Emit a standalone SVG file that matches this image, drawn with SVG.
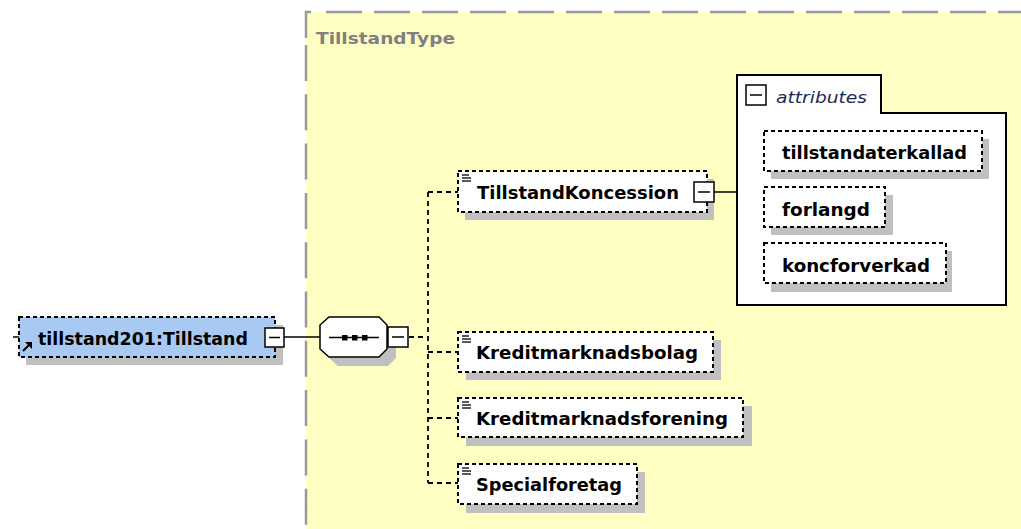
<svg xmlns="http://www.w3.org/2000/svg" width="1021" height="529" viewBox="0 0 1021 529">
<style>
.lbl{font-family:"DejaVu Sans","Verdana",sans-serif;font-weight:bold;font-size:17px;fill:#000}
.node{fill:#fff;stroke:#000;stroke-width:2;stroke-dasharray:4 3}
.shadow{fill:#c0c0c0}
.cbox{fill:#fff;stroke:#000;stroke-width:1.5}
.minus{stroke:#000;stroke-width:1.5}
.solid{stroke:#000;stroke-width:1.5;fill:none}
.dash{stroke:#000;stroke-width:1.8;fill:none;stroke-dasharray:5 4}
.border{stroke:#999;stroke-width:2.5;fill:none}
.icon{stroke:#000;stroke-width:1.3}
</style>
<rect x="0" y="0" width="1021" height="529" fill="#fff"/>
<g id="TillstandType">
<rect x="306" y="12" width="715" height="517" fill="#ffffc3"/>
<path class="border" d="M306,38 V12 H311"/>
<path class="border" d="M326,12 H1021" stroke-dasharray="36 12"/>
<path class="border" d="M306,45 V529" stroke-dasharray="36 13.3"/>
<text x="316" y="44" font-family="DejaVu Sans, sans-serif" font-weight="bold" font-size="16.5" fill="#808080" textLength="139" lengthAdjust="spacingAndGlyphs">TillstandType</text>
</g>
<g id="connectors">
<line class="solid" x1="284" y1="337" x2="320" y2="337"/>
<line class="dash" x1="409" y1="337" x2="428" y2="337"/>
<line class="dash" x1="428" y1="192" x2="428" y2="483"/>
<line class="dash" x1="428" y1="192" x2="458" y2="192"/>
<line class="dash" x1="428" y1="352" x2="458" y2="352"/>
<line class="dash" x1="428" y1="418" x2="458" y2="418"/>
<line class="dash" x1="428" y1="483" x2="458" y2="483"/>
<line class="solid" x1="714" y1="192" x2="737" y2="192"/>
</g>
<g id="root">
<line class="solid" x1="13" y1="337" x2="19" y2="337"/>
<rect class="shadow" x="26" y="325" width="257" height="40"/>
<rect class="node" x="19" y="317" width="256" height="40" style="fill:#a8caf2"/>
<line x1="23" y1="351" x2="29" y2="345" stroke="#000" stroke-width="2"/>
<polygon points="32,342 32,349 25,342" fill="#000"/>
<text class="lbl" x="38" y="345" textLength="210" lengthAdjust="spacingAndGlyphs">tillstand201:Tillstand</text>
<rect class="cbox" x="265" y="328" width="19" height="19"/>
<line class="minus" x1="269" y1="337.5" x2="280" y2="337.5"/>
</g>
<g id="sequence">
<path class="shadow" d="M338,326 H388 L396,334 V358 L388,366 H338 L329,358 V334 Z"/>
<path d="M329,317 H379 L387,325 V349 L379,357 H329 L320,349 V325 Z" fill="#fff" stroke="#000" stroke-width="1.5"/>
<line x1="329" y1="337.5" x2="379" y2="337.5" stroke="#000" stroke-width="1.5"/>
<rect x="342" y="335" width="5.5" height="5.5" fill="#000"/>
<rect x="352" y="335" width="5.5" height="5.5" fill="#000"/>
<rect x="362" y="335" width="5.5" height="5.5" fill="#000"/>
<rect class="cbox" x="388" y="327" width="20" height="20"/>
<line class="minus" x1="392" y1="337" x2="404" y2="337"/>
</g>
<g id="TillstandKoncession">
<rect class="shadow" x="465" y="179" width="249" height="41"/>
<rect class="node" x="458" y="171" width="249" height="41"/>
<line class="icon" x1="462" y1="175" x2="469" y2="175"/>
<line class="icon" x1="462" y1="178" x2="471" y2="178"/>
<line class="icon" x1="462" y1="181" x2="471" y2="181"/>
<text class="lbl" x="477" y="199" textLength="202" lengthAdjust="spacingAndGlyphs">TillstandKoncession</text>
<rect class="cbox" x="694" y="182" width="20" height="20"/>
<line class="minus" x1="698" y1="192" x2="710" y2="192"/>
</g>
<g id="attributes">
<path d="M737,75 H881 V113 H1006 V305 H737 Z" fill="#fff" stroke="#000" stroke-width="2"/>
<rect class="cbox" x="746" y="85" width="20" height="20"/>
<line class="minus" x1="750" y1="95" x2="762" y2="95"/>
<text x="776" y="103" font-family="DejaVu Sans, sans-serif" font-style="italic" font-size="16" fill="#1c2b55" textLength="91" lengthAdjust="spacingAndGlyphs">attributes</text>
</g>
<g id="tillstandaterkallad">
<rect class="shadow" x="771" y="139" width="218" height="40"/>
<rect class="node" x="764" y="131" width="218" height="40"/>
<text class="lbl" x="782" y="159" textLength="185" lengthAdjust="spacingAndGlyphs">tillstandaterkallad</text>
</g>
<g id="forlangd">
<rect class="shadow" x="771" y="195" width="122" height="40"/>
<rect class="node" x="764" y="187" width="121" height="40"/>
<text class="lbl" x="782" y="216" textLength="88" lengthAdjust="spacingAndGlyphs">forlangd</text>
</g>
<g id="koncforverkad">
<rect class="shadow" x="771" y="251" width="181" height="41"/>
<rect class="node" x="764" y="243" width="182" height="40"/>
<text class="lbl" x="782" y="272" textLength="148" lengthAdjust="spacingAndGlyphs">koncforverkad</text>
</g>
<g id="Kreditmarknadsbolag">
<rect class="shadow" x="466" y="340" width="255" height="40"/>
<rect class="node" x="458" y="332" width="255" height="40"/>
<line class="icon" x1="462" y1="336" x2="469" y2="336"/>
<line class="icon" x1="462" y1="339" x2="471" y2="339"/>
<line class="icon" x1="462" y1="342" x2="471" y2="342"/>
<text class="lbl" x="476" y="359" textLength="222" lengthAdjust="spacingAndGlyphs">Kreditmarknadsbolag</text>
</g>
<g id="Kreditmarknadsforening">
<rect class="shadow" x="466" y="406" width="286" height="40"/>
<rect class="node" x="458" y="398" width="285" height="39"/>
<line class="icon" x1="462" y1="402" x2="469" y2="402"/>
<line class="icon" x1="462" y1="405" x2="471" y2="405"/>
<line class="icon" x1="462" y1="408" x2="471" y2="408"/>
<text class="lbl" x="476" y="425" textLength="252" lengthAdjust="spacingAndGlyphs">Kreditmarknadsforening</text>
</g>
<g id="Specialforetag">
<rect class="shadow" x="466" y="472" width="179" height="41"/>
<rect class="node" x="458" y="464" width="179" height="40"/>
<line class="icon" x1="462" y1="468" x2="469" y2="468"/>
<line class="icon" x1="462" y1="471" x2="471" y2="471"/>
<line class="icon" x1="462" y1="474" x2="471" y2="474"/>
<text class="lbl" x="476" y="491" textLength="146" lengthAdjust="spacingAndGlyphs">Specialforetag</text>
</g>
</svg>
